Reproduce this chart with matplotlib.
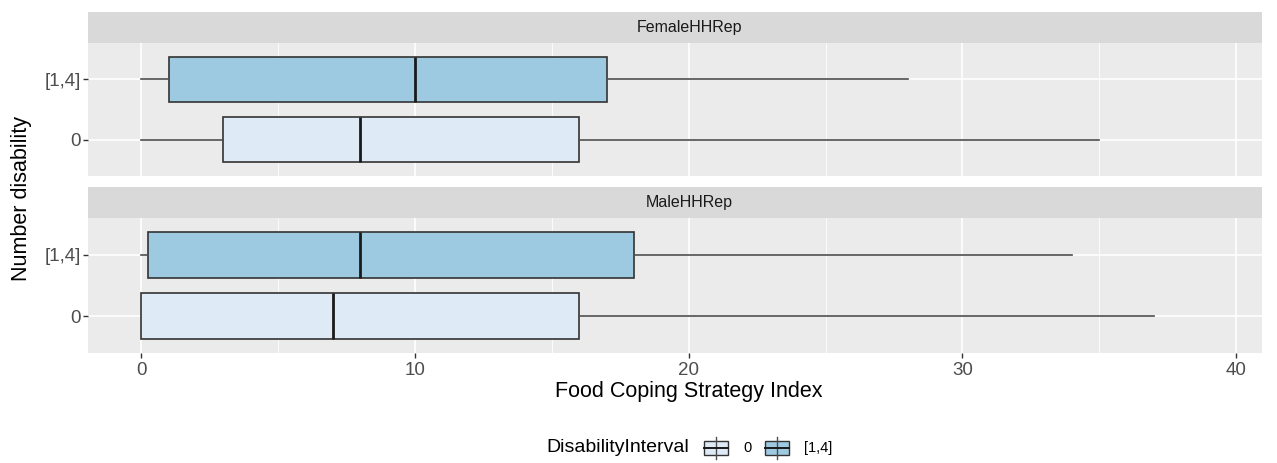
import matplotlib
matplotlib.use("Agg")
import matplotlib.pyplot as plt
from matplotlib.patches import Rectangle
from matplotlib.lines import Line2D

plt.rcParams['font.family'] = ['Liberation Sans', 'DejaVu Sans']

# Five-number summaries (whisker low, Q1, median, Q3, whisker high)
panels = ["FemaleHHRep", "MaleHHRep"]
categories = ["0", "[1,4]"]
female_0 = [0, 3, 8, 16, 35]
female_14 = [0, 1, 10, 17, 28]
male_0 = [0, 0, 7, 16, 37]
male_14 = [0, 0.25, 8, 18, 34]
x_ticks = [0, 10, 20, 30, 40]

fill_colors = {"0": "#deebf7", "[1,4]": "#9ecae1"}
edge = "#333333"
whisker_col = "#4d4d4d"
panel_bg = "#EBEBEB"
strip_bg = "#D9D9D9"

W, H = 1277, 463
fig = plt.figure(figsize=(W / 100, H / 100), dpi=100)


def fx(px):
    return px / W


def fy(py):
    return 1 - py / H


left_px, right_px = 88, 1262
title_cx = 689
layout = [(12, 43, 176), (187, 218, 353)]
data = {"FemaleHHRep": [female_0, female_14], "MaleHHRep": [male_0, male_14]}

for i, (name, (s_top, p_top, p_bot)) in enumerate(zip(panels, layout)):
    # facet strip
    sax = fig.add_axes([fx(left_px), fy(p_top), fx(right_px - left_px), (p_top - s_top) / H])
    sax.set_facecolor(strip_bg)
    sax.set_xticks([]); sax.set_yticks([])
    for s in sax.spines.values():
        s.set_visible(False)
    fig.text(fx(title_cx), fy((s_top + p_top) / 2), name, ha="center", va="center",
             fontsize=11.5, color="#1a1a1a")

    ax = fig.add_axes([fx(left_px), fy(p_bot), fx(right_px - left_px), (p_bot - p_top) / H])
    ax.set_facecolor(panel_bg)
    for s in ax.spines.values():
        s.set_visible(False)
    ax.set_xlim(-1.95, 40.95)
    ax.set_ylim(0.4, 2.6)

    # grid
    for v in [5, 15, 25, 35]:
        ax.axvline(v, color="white", lw=0.6, zorder=0)
    for v in x_ticks:
        ax.axvline(v, color="white", lw=1.2, zorder=0)
    for yv in [1, 2]:
        ax.axhline(yv, color="white", lw=1.2, zorder=0)

    stats = []
    for cat, vals in zip(categories, data[name]):
        lo, q1, med, q3, hi = vals
        stats.append(dict(whislo=lo, q1=q1, med=med, q3=q3, whishi=hi, fliers=[], label=cat))
    bp = ax.bxp(stats, positions=[1, 2], widths=0.75, vert=False, patch_artist=True,
                showcaps=False, showfliers=False,
                boxprops=dict(edgecolor=edge, linewidth=1.2),
                medianprops=dict(color="#1a1a1a", linewidth=2.0),
                whiskerprops=dict(color=whisker_col, linewidth=1.2))
    for patch, cat in zip(bp["boxes"], categories):
        patch.set_facecolor(fill_colors[cat])
        patch.set_zorder(2)

    ax.set_yticks([1, 2])
    ax.set_yticklabels(categories, fontsize=13.5, color="#4d4d4d")
    ax.tick_params(axis="y", length=3.5, width=1, color="#333333", pad=1.5)
    ax.set_xticks(x_ticks)
    if i == 1:
        ax.set_xticklabels([str(v) for v in x_ticks], fontsize=13.5, color="#4d4d4d")
        ax.tick_params(axis="x", length=3.5, width=1, color="#333333", pad=3)
    else:
        ax.tick_params(axis="x", length=0, labelbottom=False)

fig.text(fx(title_cx), fy(392), "Food Coping Strategy Index", ha="center", va="center",
         fontsize=15.5, color="black")
fig.text(fx(22), fy(198), "Number disability", rotation=90, ha="center", va="center",
         fontsize=15.5, color="black")

# legend
ly_px = 448
ly = fy(ly_px)
fig.text(fx(689), ly, "DisabilityInterval", ha="right", va="center", fontsize=14)


def legend_key(cx, color):
    w, h = 24, 14
    x0 = cx - w / 2
    y0 = ly_px - h / 2
    fig.add_artist(Line2D([fx(cx), fx(cx)], [fy(ly_px - 11), fy(ly_px + 11)], color=whisker_col,
                          lw=1.0, transform=fig.transFigure))
    fig.add_artist(Rectangle((fx(x0), fy(y0 + h)), fx(w), h / H, facecolor=color,
                             edgecolor=edge, lw=1.0, transform=fig.transFigure))
    fig.add_artist(Line2D([fx(x0), fx(x0 + w)], [ly, ly], color="#1a1a1a", lw=1.4,
                          transform=fig.transFigure))


legend_key(716, fill_colors["0"])
fig.text(fx(743), ly, "0", ha="left", va="center", fontsize=10.5)
legend_key(777, fill_colors["[1,4]"])
fig.text(fx(804), ly, "[1,4]", ha="left", va="center", fontsize=10.5)

fig.savefig("out.png", dpi=100)
